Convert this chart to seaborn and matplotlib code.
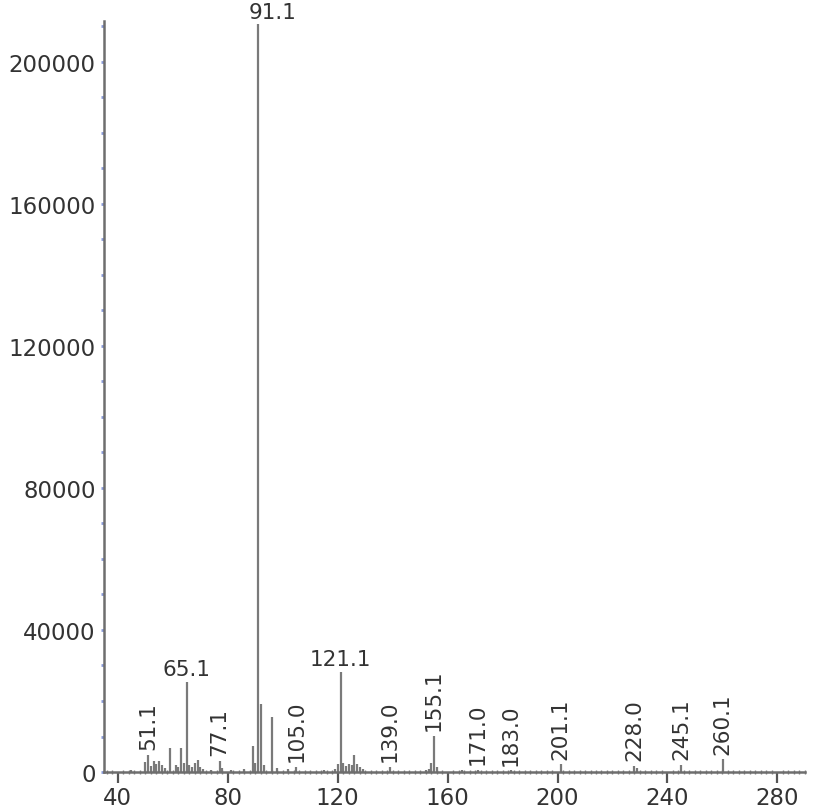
import numpy as np
import matplotlib
matplotlib.use("Agg")
import matplotlib.pyplot as plt
import seaborn as sns
from matplotlib.ticker import MultipleLocator

################ SPECTRUM DATA ################

mz = [45.0, 50.1, 51.1, 52.1, 53.1, 54.1, 55.1, 56.1, 57.1, 59.1, 61.1, 62.1,
      63.1, 64.1, 65.1, 66.1, 67.1, 68.1, 69.1, 70.1, 71.1, 74.1, 77.1, 78.1,
      81.1, 86.1, 89.1, 90.1, 91.1, 92.1, 93.1, 96.1, 98.1, 102.1, 105.0,
      115.1, 119.1, 120.1, 121.1, 122.1, 123.1, 124.1, 125.1, 126.1, 127.1,
      128.1, 129.1, 139.0, 152.1, 153.1, 154.1, 155.1, 156.1, 165.1, 171.0,
      183.0, 201.1, 228.0, 229.0, 245.1, 260.1]

intensity = [600, 2700, 4900, 1800, 3000, 2400, 3200, 2000, 1200, 6900, 2000, 1500,
             6900, 2500, 25400, 2000, 1300, 2600, 3300, 1500, 900, 600, 3100, 1200,
             600, 800, 7400, 2500, 210500, 19100, 2000, 15600, 1200, 800, 1500,
             600, 800, 2200, 28300, 2500, 1800, 2400, 2000, 4900, 2200,
             1500, 800, 1400, 600, 900, 2600, 10200, 1500, 500, 600,
             500, 2200, 1800, 1000, 2000, 3600]

label_mz = [51.1, 65.1, 77.1, 91.1, 105.0, 121.1, 139.0, 155.1, 171.0, 183.0,
            201.1, 228.0, 245.1, 260.1]
label_rot = [90, 0, 90, 0, 90, 0, 90, 90, 90, 90, 90, 90, 90, 90]

x_ticks = [40, 80, 120, 160, 200, 240, 280]
y_ticks = [0, 40000, 80000, 120000, 160000, 200000]

################ PLOT ################

sns.set_style("white")
plt.rcParams['font.family'] = ['DejaVu Sans']

fig = plt.figure(figsize=(8.15, 8.12), dpi=100)
ax = fig.add_axes([0.1276, 0.048, 0.86, 0.925])

bar_color = '#7a7a7a'
ax.vlines(mz, 0, intensity, color=bar_color, linewidth=1.6)

peak = dict(zip(mz, intensity))
for m, rot in zip(label_mz, label_rot):
    # base peak label sits a little to the right in the original
    dx = 10 if m == 91.1 else 0
    ax.annotate(f"{m:.1f}", xy=(m, peak[m]), xytext=(dx, 4 if rot else 2),
                textcoords='offset points', ha='center', va='bottom',
                rotation=rot, fontsize=15.5, color='#333333')

ax.set_xlim(35, 290)
ax.set_ylim(0, 211500)
ax.set_xticks(x_ticks)
ax.set_yticks(y_ticks)
ax.xaxis.set_minor_locator(MultipleLocator(2))
ax.yaxis.set_minor_locator(MultipleLocator(10000))

sns.despine(ax=ax, top=True, right=True)
for side in ['left', 'bottom']:
    ax.spines[side].set_color('#6e6e6e')
    ax.spines[side].set_linewidth(1.8)

ax.tick_params(axis='x', which='both', bottom=True)
ax.tick_params(axis='y', which='both', left=True)
ax.tick_params(axis='x', which='major', direction='out', length=8, width=1.6,
               color='#555555', labelsize=16.5, labelcolor='#333333', pad=2)
ax.tick_params(axis='x', which='minor', direction='inout', length=3.5, width=1.0,
               color='#808080')
ax.tick_params(axis='y', which='both', direction='out', length=2, width=2,
               color='#8a9ad8', labelsize=16.5, labelcolor='#333333', pad=4)

fig.savefig("out.png", dpi=100)
